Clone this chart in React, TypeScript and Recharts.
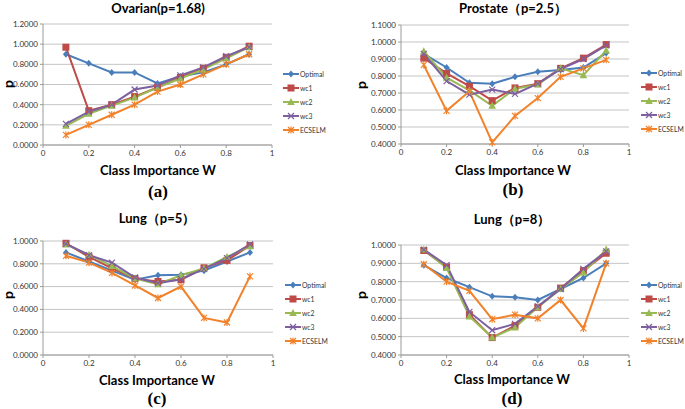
import React from 'react';
import { LineChart, Line, XAxis, YAxis, CartesianGrid } from 'recharts';

// class importance W on the x axis
const W = [0.1, 0.2, 0.3, 0.4, 0.5, 0.6, 0.7, 0.8, 0.9];
const SERIES = ['Optimal', 'wc1', 'wc2', 'wc3', 'ECSELM'];
const COLORS = ['#4a7ebb', '#be4b48', '#98b954', '#7d60a0', '#f2822a'];
const X_TICKS = [0, 0.2, 0.4, 0.6, 0.8, 1];

// (a) Ovarian
const ovOptimal = [0.90, 0.81, 0.72, 0.72, 0.61, 0.68, 0.72, 0.80, 0.90];
const ovWc1 = [0.97, 0.34, 0.40, 0.48, 0.57, 0.67, 0.76, 0.87, 0.98];
const ovWc2 = [0.19, 0.31, 0.39, 0.47, 0.57, 0.66, 0.75, 0.86, 0.97];
const ovWc3 = [0.21, 0.33, 0.40, 0.55, 0.59, 0.69, 0.77, 0.88, 0.97];
const ovEcselm = [0.10, 0.20, 0.30, 0.40, 0.53, 0.60, 0.70, 0.80, 0.90];

// (b) Prostate
const prOptimal = [0.93, 0.85, 0.76, 0.755, 0.795, 0.825, 0.835, 0.85, 0.935];
const prWc1 = [0.905, 0.815, 0.74, 0.655, 0.73, 0.755, 0.845, 0.905, 0.985];
const prWc2 = [0.945, 0.79, 0.715, 0.625, 0.725, 0.75, 0.845, 0.805, 0.95];
const prWc3 = [0.93, 0.77, 0.69, 0.72, 0.695, 0.755, 0.84, 0.90, 0.98];
const prEcselm = [0.865, 0.595, 0.71, 0.41, 0.565, 0.67, 0.795, 0.845, 0.895];

// (c) Lung p=5
const l5Optimal = [0.90, 0.82, 0.74, 0.66, 0.70, 0.705, 0.74, 0.82, 0.90];
const l5Wc1 = [0.98, 0.86, 0.76, 0.67, 0.645, 0.66, 0.765, 0.83, 0.96];
const l5Wc2 = [0.97, 0.88, 0.78, 0.67, 0.62, 0.70, 0.76, 0.86, 0.955];
const l5Wc3 = [0.975, 0.875, 0.81, 0.68, 0.63, 0.665, 0.755, 0.85, 0.97];
const l5Ecselm = [0.87, 0.81, 0.72, 0.61, 0.50, 0.60, 0.325, 0.285, 0.69];

// (d) Lung p=8
const l8Optimal = [0.89, 0.82, 0.77, 0.72, 0.715, 0.70, 0.76, 0.82, 0.90];
const l8Wc1 = [0.97, 0.88, 0.62, 0.495, 0.56, 0.66, 0.765, 0.86, 0.955];
const l8Wc2 = [0.975, 0.875, 0.61, 0.495, 0.55, 0.66, 0.76, 0.85, 0.975];
const l8Wc3 = [0.975, 0.89, 0.635, 0.535, 0.57, 0.665, 0.76, 0.87, 0.965];
const l8Ecselm = [0.895, 0.80, 0.75, 0.595, 0.62, 0.60, 0.70, 0.545, 0.90];

const buildRows = (cols: number[][]) =>
  W.map((w, i) => {
    const row: Record<string, number> = { w };
    SERIES.forEach((s, k) => (row[s] = cols[k][i]));
    return row;
  });

const FONT = 'Lato, "Liberation Sans", sans-serif';

const Marker = ({ kind, cx, cy, color }: { kind: number; cx: number; cy: number; color: string }) => {
  switch (kind) {
    case 0:
      return <path d={`M${cx},${cy - 3.5}L${cx + 3},${cy}L${cx},${cy + 3.5}L${cx - 3},${cy}Z`} fill={color} />;
    case 1:
      return <rect x={cx - 3.5} y={cy - 3.5} width={7} height={7} fill={color} />;
    case 2:
      return <path d={`M${cx},${cy - 4}L${cx + 3.8},${cy + 3}L${cx - 3.8},${cy + 3}Z`} fill={color} />;
    case 3:
      return (
        <path d={`M${cx - 3},${cy - 3}L${cx + 3},${cy + 3}M${cx + 3},${cy - 3}L${cx - 3},${cy + 3}`} stroke={color} strokeWidth={1.2} />
      );
    default:
      return (
        <path
          d={`M${cx - 3},${cy - 3}L${cx + 3},${cy + 3}M${cx + 3},${cy - 3}L${cx - 3},${cy + 3}M${cx},${cy - 3.5}L${cx},${cy + 3.5}`}
          stroke={color}
          strokeWidth={1.2}
        />
      );
  }
};

interface PanelProps {
  cols: number[][];
  yDomain: [number, number];
  yTicks: number[];
  title: string;
  tag: string;
  plotLeft: number;
  plotRight: number;
  plotTop: number;
  plotBottom: number;
  titleX: number;
  titleY: number;
  axisY: number;
  tagY: number;
  pX: number;
  pY: number;
  legendX: number;
  legendY: number;
}

const Panel = (p: PanelProps) => {
  const yAxisW = 40;
  const mTop = 5;
  const mRight = 6;
  const xAxisH = 16;
  const width = p.plotRight - p.plotLeft + yAxisW + mRight;
  const height = p.plotBottom - p.plotTop + mTop + xAxisH;
  const data = buildRows(p.cols);
  const center = (x: number, y: number): React.CSSProperties => ({
    position: 'absolute',
    left: x,
    top: y,
    transform: 'translate(-50%, -50%)',
    whiteSpace: 'nowrap',
    lineHeight: 1,
  });
  return (
    <>
      <div style={{ ...center(p.titleX, p.titleY), fontFamily: FONT, fontWeight: 700, fontSize: 13 }}>{p.title}</div>
      <div style={{ ...center(p.titleX, p.axisY), fontFamily: FONT, fontWeight: 700, fontSize: 13 }}>Class Importance W</div>
      <div style={{ ...center(p.titleX, p.tagY), fontFamily: '"Liberation Serif", serif', fontWeight: 700, fontSize: 17 }}>{p.tag}</div>
      <div style={{ ...center(p.pX, p.pY), fontFamily: FONT, fontWeight: 700, fontSize: 14, transform: 'translate(-50%, -50%) rotate(-90deg)' }}>p</div>
      <div style={{ position: 'absolute', left: p.plotLeft - yAxisW, top: p.plotTop - mTop }}>
        <LineChart width={width} height={height} data={data} margin={{ top: mTop, right: mRight, left: 0, bottom: 0 }}>
          <CartesianGrid vertical={false} stroke="#c4c4c4" />
          <XAxis
            dataKey="w"
            type="number"
            domain={[0, 1]}
            ticks={X_TICKS}
            height={xAxisH}
            stroke="#9a9a9a"
            tickSize={3}
            tick={{ fontSize: 8, fill: '#333', fontFamily: FONT }}
            tickFormatter={(v: number) => String(v)}
          />
          <YAxis
            type="number"
            domain={p.yDomain}
            ticks={p.yTicks}
            width={yAxisW}
            stroke="#9a9a9a"
            tickSize={3}
            tick={{ fontSize: 8, fill: '#333', fontFamily: FONT }}
            tickFormatter={(v: number) => v.toFixed(4)}
            interval={0}
          />
          {SERIES.map((s, k) => (
            <Line
              key={s}
              dataKey={s}
              stroke={COLORS[k]}
              strokeWidth={2}
              isAnimationActive={false}
              dot={(d: any) => (
                <g key={`${s}-${d.index}`}>
                  <Marker kind={k} cx={d.cx} cy={d.cy} color={COLORS[k]} />
                </g>
              )}
              activeDot={false}
            />
          ))}
        </LineChart>
      </div>
      <svg
        style={{ position: 'absolute', left: p.legendX, top: p.legendY - 7 }}
        width={Math.min(56, 685 - p.legendX)}
        height={75}
      >
        {SERIES.map((s, k) => {
          const y = 7 + k * 14;
          return (
            <g key={s}>
              <line x1={0} x2={16} y1={y} y2={y} stroke={COLORS[k]} strokeWidth={2} />
              <Marker kind={k} cx={8} cy={y} color={COLORS[k]} />
              <text x={17} y={y + 3} fontSize={6.8} fontFamily={FONT} fill="#333">
                {s}
              </text>
            </g>
          );
        })}
      </svg>
    </>
  );
};

export default function App() {
  return (
    <div style={{ position: 'absolute', left: 0, top: 0, width: 685, height: 409, background: '#fff', overflow: 'hidden' }}>
      <Panel
        cols={[ovOptimal, ovWc1, ovWc2, ovWc3, ovEcselm]}
        yDomain={[0, 1.2]}
        yTicks={[0, 0.2, 0.4, 0.6, 0.8, 1.0, 1.2]}
        title="Ovarian(p=1.68)"
        tag="(a)"
        plotLeft={43}
        plotRight={272}
        plotTop={24}
        plotBottom={145}
        titleX={158}
        titleY={8}
        axisY={170}
        tagY={191}
        pX={8}
        pY={84}
        legendX={283}
        legendY={74}
      />
      <Panel
        cols={[prOptimal, prWc1, prWc2, prWc3, prEcselm]}
        yDomain={[0.4, 1.1]}
        yTicks={[0.4, 0.5, 0.6, 0.7, 0.8, 0.9, 1.0, 1.1]}
        title="Prostate（p=2.5）"
        tag="(b)"
        plotLeft={401}
        plotRight={629}
        plotTop={25}
        plotBottom={144}
        titleX={513}
        titleY={8}
        axisY={170}
        tagY={189}
        pX={361}
        pY={85}
        legendX={641}
        legendY={73}
      />
      <Panel
        cols={[l5Optimal, l5Wc1, l5Wc2, l5Wc3, l5Ecselm]}
        yDomain={[0, 1]}
        yTicks={[0, 0.2, 0.4, 0.6, 0.8, 1.0]}
        title="Lung（p=5）"
        tag="(c)"
        plotLeft={43}
        plotRight={273}
        plotTop={241}
        plotBottom={355}
        titleX={157}
        titleY={218}
        axisY={380}
        tagY={398}
        pX={8}
        pY={295}
        legendX={285}
        legendY={285}
      />
      <Panel
        cols={[l8Optimal, l8Wc1, l8Wc2, l8Wc3, l8Ecselm]}
        yDomain={[0.4, 1.0]}
        yTicks={[0.4, 0.5, 0.6, 0.7, 0.8, 0.9, 1.0]}
        title="Lung（p=8）"
        tag="(d)"
        plotLeft={401}
        plotRight={629}
        plotTop={245}
        plotBottom={355}
        titleX={512}
        titleY={219}
        axisY={379}
        tagY={398}
        pX={361}
        pY={295}
        legendX={641}
        legendY={285}
      />
    </div>
  );
}
